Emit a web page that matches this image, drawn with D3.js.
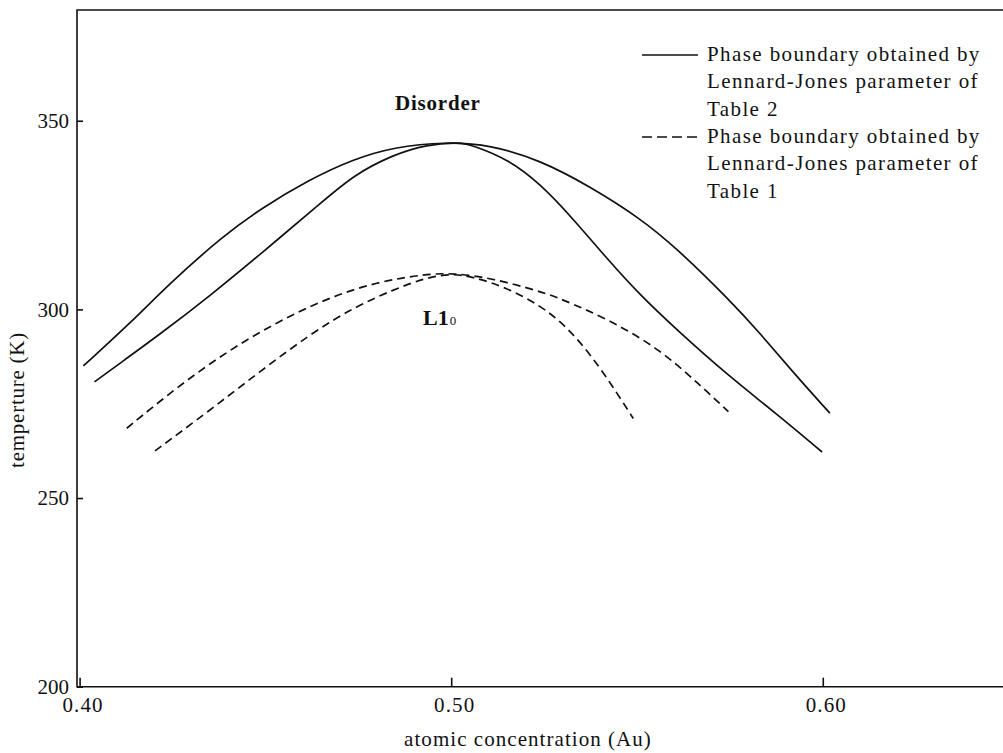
<!DOCTYPE html>
<html>
<head>
<meta charset="utf-8">
<script src="https://cdn.jsdelivr.net/npm/d3@7"></script>
<style>
  body { margin: 0; background: #fff; }
  svg { display: block; }
</style>
</head>
<body>
<svg id="chart" width="1003" height="753"></svg>
<script>
// phase boundaries: [Au concentration, temperature K]
const table2Outer = [
  [0.4010, 285.0], [0.4136, 296.3], [0.4243, 307.0], [0.4387, 319.5], [0.4486, 326.6],
  [0.4620, 334.5], [0.4737, 339.8], [0.4844, 343.0], [0.4988, 344.4], [0.5104, 343.6],
  [0.5239, 339.6], [0.5373, 332.6], [0.5508, 324.2], [0.5607, 316.2], [0.5750, 302.4],
  [0.5831, 293.7], [0.5921, 283.2], [0.6019, 272.5]
];
const table2Inner = [
  [0.4040, 280.8], [0.4118, 286.4], [0.4216, 293.4], [0.4351, 303.6], [0.4486, 314.6],
  [0.4647, 328.0], [0.4737, 335.6], [0.4844, 341.0], [0.4934, 343.7], [0.5024, 344.3],
  [0.5059, 343.4], [0.5149, 340.0], [0.5239, 333.4], [0.5329, 323.9], [0.5418, 313.6],
  [0.5508, 303.8], [0.5607, 294.6], [0.5741, 282.8], [0.5876, 272.3], [0.5998, 262.2]
];
const table1Outer = [
  [0.4127, 268.5], [0.4261, 279.3], [0.4396, 288.8], [0.4530, 296.6], [0.4665, 302.9],
  [0.4800, 307.3], [0.4934, 309.4], [0.5006, 309.6], [0.5104, 308.4], [0.5239, 304.8],
  [0.5293, 302.9], [0.5427, 297.2], [0.5562, 289.4], [0.5669, 280.0], [0.5746, 272.9]
];
const table1Inner = [
  [0.4203, 262.5], [0.4351, 273.3], [0.4486, 283.6], [0.4620, 293.4], [0.4737, 300.5],
  [0.4844, 305.2], [0.4934, 308.5], [0.5005, 309.5], [0.5059, 308.6], [0.5149, 305.8],
  [0.5239, 301.0], [0.5293, 296.9], [0.5347, 291.4], [0.5400, 284.6], [0.5445, 278.0],
  [0.5490, 271.1]
];

const xTicks = [0.40, 0.50, 0.60];
const yTicks = [200, 250, 300, 350];
const legendSolid = ["Phase boundary obtained by", "Lennard-Jones parameter of", "Table 2"];
const legendDashed = ["Phase boundary obtained by", "Lennard-Jones parameter of", "Table 1"];

const svg = d3.select("#chart");
const ink = "#111";
const serif = "'Liberation Serif', 'DejaVu Serif', serif";

// plot frame (right side is cut off in the original)
const frame = { left: 77, top: 10, bottom: 686.7, right: 1003 };

const x = d3.scaleLinear().domain([0.3993, 0.6485]).range([frame.left, frame.right]);
const y = d3.scaleLinear().domain([200, 379.35]).range([frame.bottom, frame.top]);

// frame lines
svg.append("path")
  .attr("d", `M${frame.right},${frame.top}H${frame.left}V${frame.bottom}H${frame.right}`)
  .attr("fill", "none")
  .attr("stroke", ink)
  .attr("stroke-width", 1.6);

// axes
const yAxis = d3.axisLeft(y).tickValues(yTicks).tickSize(-6).tickPadding(8).tickFormat(d3.format("d"));
const gy = svg.append("g").attr("transform", `translate(${frame.left},0)`).call(yAxis);

const xAxis = d3.axisBottom(x).tickValues(xTicks).tickSize(-9).tickPadding(10).tickFormat(d3.format(".2f"));
const gx = svg.append("g").attr("transform", `translate(0,${frame.bottom})`).call(xAxis);

[gx, gy].forEach(g => {
  g.attr("font-family", serif).attr("font-size", 21);
  g.select(".domain").remove();
  g.selectAll(".tick line").attr("stroke", ink).attr("stroke-width", 1.6);
  g.selectAll(".tick text").attr("fill", ink);
});
gx.selectAll(".tick text").attr("dx", 3).attr("letter-spacing", 1.1);

// curves
const line = d3.line()
  .x(d => x(d[0]))
  .y(d => y(d[1]))
  .curve(d3.curveBasis);

const series = [
  { data: table2Outer, dash: null },
  { data: table2Inner, dash: null },
  { data: table1Outer, dash: "8,5" },
  { data: table1Inner, dash: "8,5" }
];

svg.append("g").selectAll("path")
  .data(series)
  .join("path")
  .attr("d", d => line(d.data))
  .attr("fill", "none")
  .attr("stroke", ink)
  .attr("stroke-width", 1.7)
  .attr("stroke-dasharray", d => d.dash);

// region labels
svg.append("text")
  .attr("x", 395).attr("y", 110)
  .attr("font-family", serif)
  .attr("font-size", 21).attr("font-weight", "bold")
  .attr("letter-spacing", 0.8)
  .attr("fill", ink)
  .text("Disorder");

const l10 = svg.append("text")
  .attr("x", 423).attr("y", 325)
  .attr("font-family", serif)
  .attr("font-size", 22).attr("font-weight", "bold")
  .attr("fill", ink);
l10.append("tspan").text("L1");
l10.append("tspan").attr("font-size", 13).attr("font-weight", "normal").attr("dx", 1).text("0");

// legend
const legend = svg.append("g")
  .attr("fill", ink)
  .attr("font-family", serif)
  .attr("font-size", 21)
  .attr("letter-spacing", 1.4);
const lineGap = 27.4;
[[legendSolid, null, 61], [legendDashed, "10,5", 143]].forEach(([rows, dash, base]) => {
  legend.append("line")
    .attr("x1", 642).attr("x2", 698)
    .attr("y1", base - 6).attr("y2", base - 6)
    .attr("stroke", ink).attr("stroke-width", 1.7)
    .attr("stroke-dasharray", dash);
  rows.forEach((t, i) => {
    legend.append("text")
      .attr("x", 707).attr("y", base + i * lineGap)
      .text(t);
  });
});

// axis titles
svg.append("text")
  .attr("x", 528).attr("y", 746)
  .attr("text-anchor", "middle")
  .attr("font-family", serif)
  .attr("font-size", 21).attr("letter-spacing", 1.05)
  .attr("fill", ink)
  .text("atomic concentration (Au)");

svg.append("text")
  .attr("transform", "translate(24,400) rotate(-90)")
  .attr("text-anchor", "middle")
  .attr("font-family", serif)
  .attr("font-size", 21).attr("letter-spacing", 0.75)
  .attr("fill", ink)
  .text("temperture (K)");
</script>
</body>
</html>
